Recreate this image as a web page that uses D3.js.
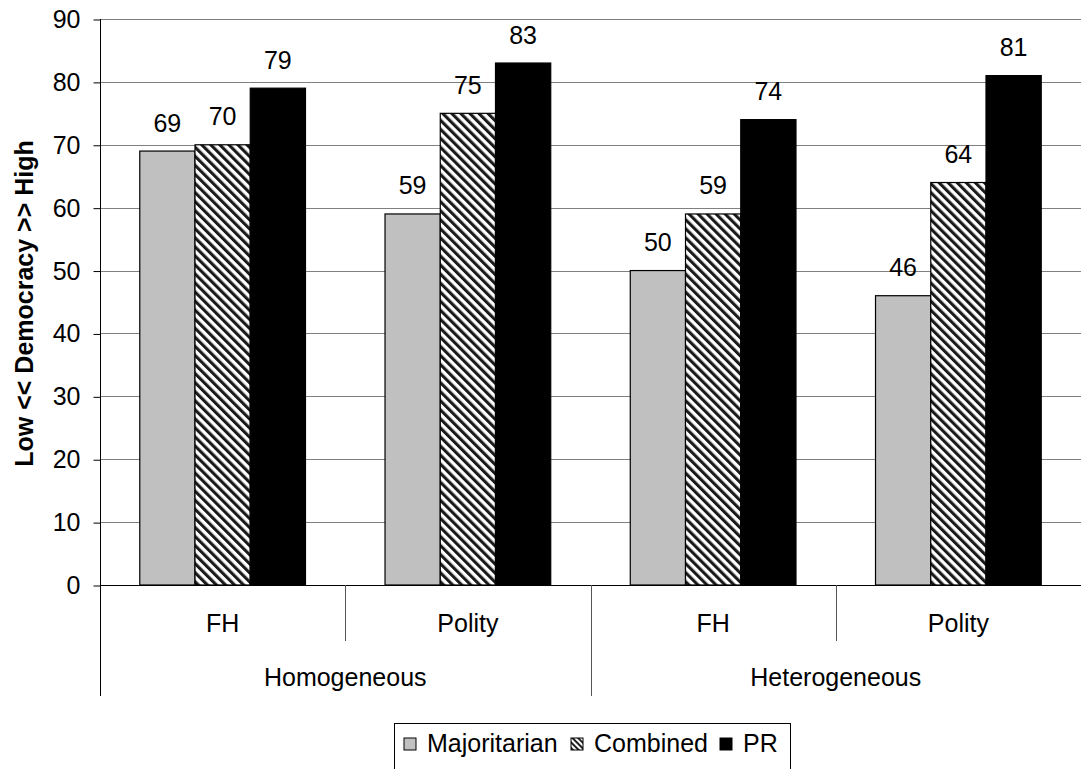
<!DOCTYPE html>
<html>
<head>
<meta charset="utf-8">
<script src="https://cdn.jsdelivr.net/npm/d3@7"></script>
<style>
  html, body { margin: 0; padding: 0; background: #fff; overflow: hidden; }
  svg { display: block; font-family: Arial, "Liberation Sans", sans-serif; }
</style>
</head>
<body>
<svg id="chart" width="1081" height="769"></svg>
<script>
// Democracy scores by electoral system, split by measure and society type
const groups = ["Homogeneous", "Heterogeneous"];
const measures = ["FH", "Polity", "FH", "Polity"];
const groupOfCategory = [0, 0, 1, 1];
const series = ["Majoritarian", "Combined", "PR"];
const majoritarian = [69, 59, 50, 46];
const combined = [70, 75, 59, 64];
const pr = [79, 83, 74, 81];
const yTicks = [0, 10, 20, 30, 40, 50, 60, 70, 80, 90];
const yTitle = "Low << Democracy >> High";

const values = [majoritarian, combined, pr];
const FONT = 25;

const svg = d3.select("#chart");
const plotLeft = 100, plotRight = 1081, plotTop = 19, plotBottom = 585;

const defs = svg.append("defs");
// Diagonal stripes for the "Combined" series
const pat = defs.append("pattern")
  .attr("id", "hatch")
  .attr("patternUnits", "userSpaceOnUse")
  .attr("width", 6.4).attr("height", 6.4)
  .attr("patternTransform", "rotate(-45)");
pat.append("rect").attr("width", 6.4).attr("height", 6.4).attr("fill", "#fff");
pat.append("rect").attr("x", 0).attr("width", 3.1).attr("height", 6.4).attr("fill", "#1a1a1a");

const pat2 = defs.append("pattern")
  .attr("id", "hatchSmall")
  .attr("patternUnits", "userSpaceOnUse")
  .attr("width", 4).attr("height", 4)
  .attr("patternTransform", "rotate(-45)");
pat2.append("rect").attr("width", 4).attr("height", 4).attr("fill", "#fff");
pat2.append("rect").attr("width", 2).attr("height", 4).attr("fill", "#222");

const fills = ["#c0c0c0", "url(#hatch)", "#000"];

const y = d3.scaleLinear().domain([0, 90]).range([plotBottom, plotTop]);
const x0 = d3.scaleBand().domain(d3.range(measures.length)).range([plotLeft, plotRight]).paddingInner(0).paddingOuter(0);
const x1 = d3.scaleBand().domain(d3.range(series.length))
  .range([0, x0.bandwidth()]).paddingInner(0).paddingOuter(0.72);

// Horizontal gridlines
svg.append("g").selectAll("line").data(yTicks.filter(d => d > 0)).join("line")
  .attr("x1", plotLeft).attr("x2", plotRight)
  .attr("y1", d => Math.round(y(d)) + 0.5).attr("y2", d => Math.round(y(d)) + 0.5)
  .attr("stroke", "#808080").attr("stroke-width", 1);

// Bars
const cat = svg.append("g").selectAll("g").data(measures).join("g")
  .attr("transform", (d, i) => `translate(${x0(i)},0)`);
cat.selectAll("rect").data((d, i) => values.map((v, s) => ({ s, v: v[i] }))).join("rect")
  .attr("x", d => x1(d.s))
  .attr("y", d => y(d.v))
  .attr("width", x1.bandwidth())
  .attr("height", d => y(0) - y(d.v))
  .attr("fill", d => fills[d.s])
  .attr("stroke", "#000").attr("stroke-width", 1.2);

// Value labels
cat.selectAll("text").data((d, i) => values.map((v, s) => ({ s, v: v[i] }))).join("text")
  .attr("x", d => x1(d.s) + x1.bandwidth() / 2)
  .attr("y", d => y(d.v) - 19.5)
  .attr("text-anchor", "middle")
  .attr("font-size", FONT)
  .attr("fill", "#000")
  .text(d => d.v);

// Y axis
const yAxis = d3.axisLeft(y).tickValues(yTicks).tickSize(7).tickPadding(13);
const yg = svg.append("g").attr("transform", `translate(${plotLeft + 0.5},0.5)`).call(yAxis);
yg.select(".domain").remove();
yg.selectAll(".tick line").attr("stroke", "#000");
yg.selectAll(".tick text").attr("font-size", FONT).attr("fill", "#000")
  .attr("font-family", "Arial, 'Liberation Sans', sans-serif");
svg.append("line").attr("x1", plotLeft + 0.5).attr("x2", plotLeft + 0.5)
  .attr("y1", plotTop).attr("y2", 696).attr("stroke", "#000");

// X axis baseline and category dividers
svg.append("line").attr("x1", plotLeft).attr("x2", plotRight)
  .attr("y1", plotBottom + 0.5).attr("y2", plotBottom + 0.5).attr("stroke", "#000");
d3.range(1, measures.length).forEach(i => {
  const xp = Math.round(x0(i)) + 0.5;
  const long = groupOfCategory[i] !== groupOfCategory[i - 1];
  svg.append("line").attr("x1", xp).attr("x2", xp)
    .attr("y1", plotBottom).attr("y2", long ? 696 : 641)
    .attr("stroke", "#555");
});

// Measure labels
svg.append("g").selectAll("text").data(measures).join("text")
  .attr("x", (d, i) => x0(i) + x0.bandwidth() / 2)
  .attr("y", 632)
  .attr("text-anchor", "middle").attr("font-size", FONT).attr("fill", "#000")
  .text(d => d);

// Group labels
svg.append("g").selectAll("text").data(groups).join("text")
  .attr("x", (d, g) => {
    const idx = d3.range(measures.length).filter(i => groupOfCategory[i] === g);
    return (x0(idx[0]) + x0(idx[idx.length - 1]) + x0.bandwidth()) / 2;
  })
  .attr("y", 686)
  .attr("text-anchor", "middle").attr("font-size", FONT).attr("fill", "#000")
  .text(d => d);

// Y axis title
svg.append("text")
  .attr("transform", `translate(33,303.5) rotate(-90)`)
  .attr("text-anchor", "middle").attr("font-size", FONT).attr("font-weight", "bold")
  .attr("fill", "#000")
  .text(yTitle);

// Legend
const legend = svg.append("g");
legend.append("rect").attr("x", 394.5).attr("y", 723.5).attr("width", 396).attr("height", 60)
  .attr("fill", "#fff").attr("stroke", "#000");
const legendX = [404, 571, 720];
const items = legend.selectAll("g.item").data(series).join("g").attr("class", "item")
  .attr("transform", (d, i) => `translate(${legendX[i]},738)`);
items.append("rect").attr("width", 12).attr("height", 12)
  .attr("fill", (d, i) => i === 1 ? "url(#hatchSmall)" : fills[i])
  .attr("stroke", "#000").attr("stroke-width", 1);
items.append("text").attr("x", 23).attr("y", 14)
  .attr("font-size", FONT).attr("fill", "#000").text(d => d);
</script>
</body>
</html>
